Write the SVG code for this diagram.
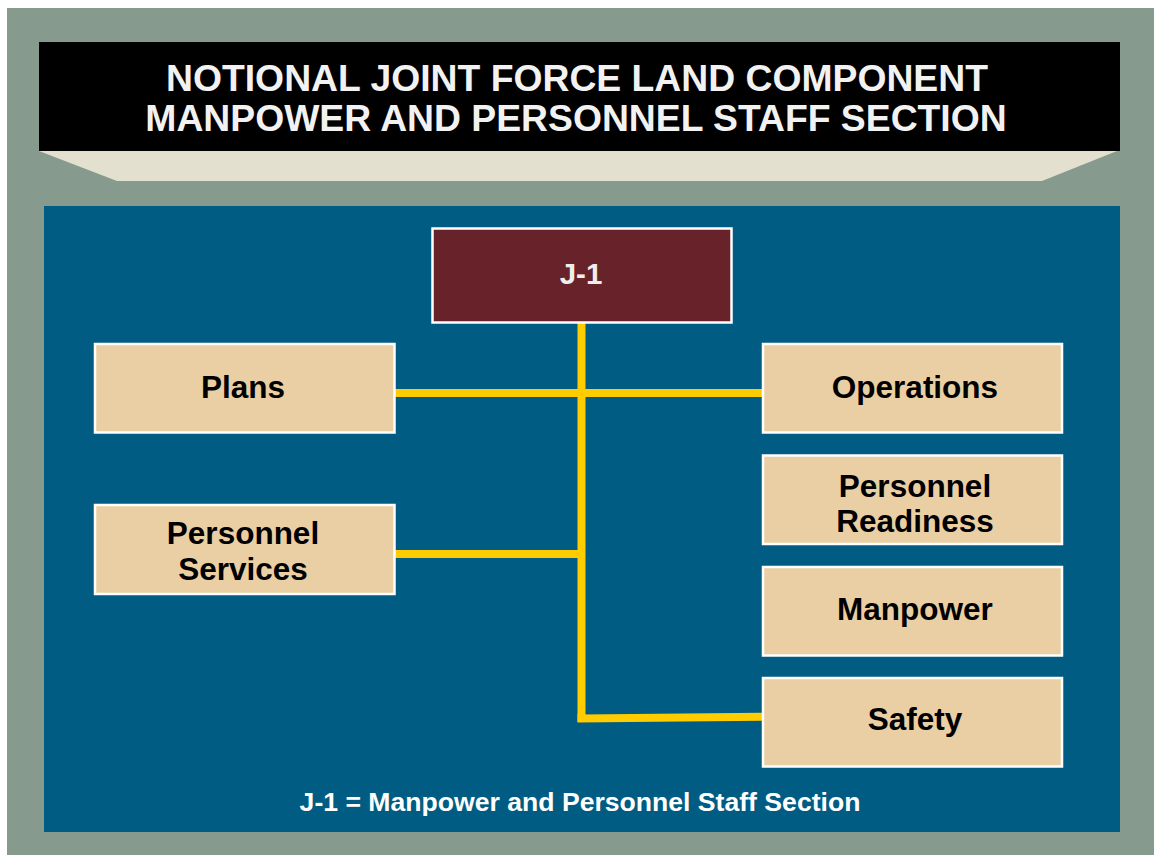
<svg xmlns="http://www.w3.org/2000/svg" width="1154" height="855" viewBox="0 0 1154 855">
  <style>
    .box { fill: #E9CFA3; stroke: #FFFFFF; stroke-width: 2.5; }
    .lbl { font-family: "Liberation Sans", Arial, sans-serif; font-weight: bold; font-size: 31.5px; fill: #000000; text-anchor: middle; }
    .title { font-family: "Liberation Sans", Arial, sans-serif; font-weight: bold; font-size: 37.3px; fill: #F2F2F2; text-anchor: middle; }
    .conn { stroke: #FFCC00; stroke-width: 8; fill: none; stroke-linejoin: miter; }
  </style>
  <rect x="0" y="0" width="1154" height="855" fill="#FFFFFF"/>
  <rect x="7" y="8" width="1147" height="847" fill="#879A8E"/>
  <g id="title">
    <polygon points="39,151 1117,151 1042,181 117,181" fill="#E3E0CF"/>
    <rect x="39" y="42" width="1081" height="109" fill="#000000"/>
    <text class="title" x="577" y="91">NOTIONAL JOINT FORCE LAND COMPONENT</text>
    <text class="title" x="576" y="131">MANPOWER AND PERSONNEL STAFF SECTION</text>
  </g>
  <rect id="panel" x="44" y="206" width="1076" height="626" fill="#005C82"/>
  <g id="connectors">
    <line class="conn" x1="581.5" y1="323" x2="581.5" y2="722"/>
    <line class="conn" x1="395" y1="393" x2="762" y2="393"/>
    <line class="conn" x1="395" y1="554" x2="581.5" y2="554"/>
    <polyline class="conn" points="581.5,714 581.5,718.5 762,716.7"/>
  </g>
  <g id="j1">
    <rect x="432.5" y="228.5" width="299" height="94" fill="#68232A" stroke="#FFFFFF" stroke-width="2.5"/>
    <text x="581" y="284" font-family="Liberation Sans, Arial, sans-serif" font-weight="bold" font-size="29.5" fill="#EEEEEE" text-anchor="middle">J-1</text>
  </g>
  <g id="plans">
    <rect class="box" x="95" y="344" width="299.5" height="88.5"/>
    <text class="lbl" x="243" y="398">Plans</text>
  </g>
  <g id="personnel-services">
    <rect class="box" x="95" y="505" width="299.5" height="89"/>
    <text class="lbl" x="243" y="544">Personnel</text>
    <text class="lbl" x="243" y="580">Services</text>
  </g>
  <g id="operations">
    <rect class="box" x="763" y="344" width="299" height="88.5"/>
    <text class="lbl" x="915" y="398">Operations</text>
  </g>
  <g id="personnel-readiness">
    <rect class="box" x="763" y="455.5" width="299" height="88.5"/>
    <text class="lbl" x="915" y="497">Personnel</text>
    <text class="lbl" x="915" y="532">Readiness</text>
  </g>
  <g id="manpower">
    <rect class="box" x="763" y="567" width="299" height="88.5"/>
    <text class="lbl" x="915" y="620">Manpower</text>
  </g>
  <g id="safety">
    <rect class="box" x="763" y="678" width="299" height="88.5"/>
    <text class="lbl" x="915" y="730">Safety</text>
  </g>
  <text id="footer" x="580" y="811" font-family="Liberation Sans, Arial, sans-serif" font-weight="bold" font-size="26.6" fill="#FFFFFF" text-anchor="middle">J-1 = Manpower and Personnel Staff Section</text>
</svg>
